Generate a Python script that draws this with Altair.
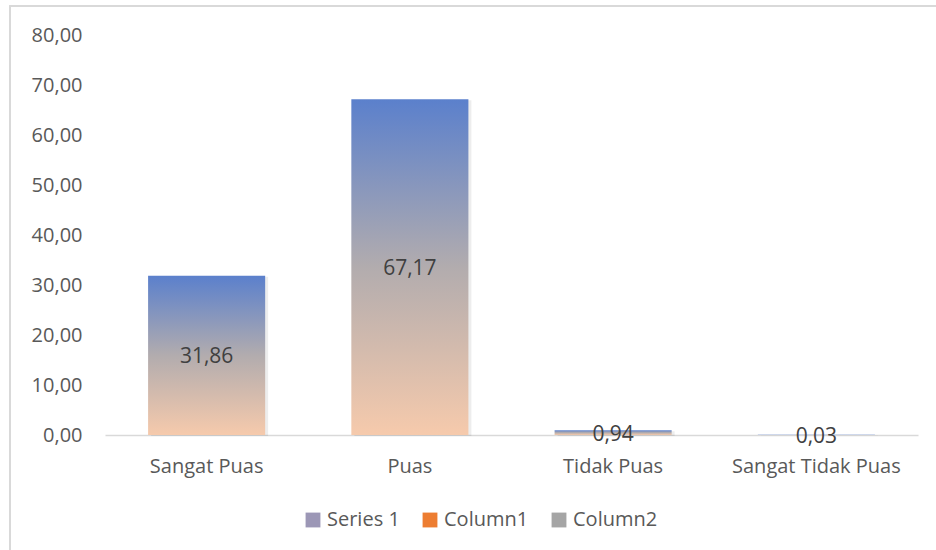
import altair as alt
import pandas as pd

categories = ["Sangat Puas", "Puas", "Tidak Puas", "Sangat Tidak Puas"]
values = [31.86, 67.17, 0.94, 0.03]
legend_series = ["Series 1", "Column1", "Column2"]
legend_colors = ["#9C97B6", "#ED7D31", "#A5A5A5"]
y_ticks = [0, 10, 20, 30, 40, 50, 60, 70, 80]

FONT = "Open Sans"
df = pd.DataFrame({"cat": categories, "value": values})
leg = pd.DataFrame({"series": legend_series, "v": [0, 0, 0]})

x_enc = alt.X("cat:N", sort=categories,
              scale=alt.Scale(paddingInner=0.424, paddingOuter=0.212),
              axis=alt.Axis(title=None, labelAngle=0, ticks=False, domainColor="#d9d9d9",
                            domainWidth=1.5, labelColor="#595959", labelFontSize=20,
                            labelFont=FONT, labelPadding=21, grid=False))
y_scale = alt.Scale(domain=[0, 80], nice=False)

grad = alt.Gradient(gradient="linear", x1=0, x2=0, y1=0, y2=1,
                    stops=[alt.GradientStop(color="#5B80CC", offset=0),
                           alt.GradientStop(color="#B2ACAE", offset=0.5),
                           alt.GradientStop(color="#F6CAAC", offset=1)])

base = alt.Chart(df)

shadow = base.mark_bar(color="#000000", opacity=0.07, xOffset=3, yOffset=1).encode(
    x=x_enc, y=alt.Y("value:Q", scale=y_scale))

bars = base.mark_bar(color=grad).encode(
    x=x_enc,
    y=alt.Y("value:Q", scale=y_scale,
            axis=alt.Axis(title=None, values=y_ticks, grid=False, domain=False, ticks=False,
                          labelColor="#595959", labelFontSize=20, labelFont=FONT,
                          labelPadding=23,
                          labelExpr="replace(format(datum.value, '.2f'), '.', ',')")))

labels = base.transform_calculate(
    mid="datum.value / 2",
    lab="replace(format(datum.value, '.2f'), '.', ',')"
).mark_text(fontSize=21, font=FONT, color="#404040", baseline="middle", dy=2).encode(
    x=alt.X("cat:N", sort=categories), y=alt.Y("mid:Q", scale=y_scale), text="lab:N")

legend_layer = alt.Chart(leg).mark_square(opacity=0, size=0).encode(
    x=alt.value(0), y=alt.value(0),
    color=alt.Color("series:N", sort=legend_series,
                    scale=alt.Scale(domain=legend_series, range=legend_colors),
                    legend=alt.Legend(title=None, orient="none", direction="horizontal",
                                      legendX=198, legendY=475, symbolType="square",
                                      symbolSize=220, symbolOpacity=1, symbolStrokeWidth=0,
                                      labelFontSize=20, labelFont=FONT, labelColor="#595959",
                                      columnPadding=20, labelOffset=4)))

border = alt.Chart(leg).mark_rect(fillOpacity=0, stroke="#d9d9d9", strokeWidth=1.5).encode(
    x=alt.value(-95), x2=alt.value(841), y=alt.value(-29), y2=alt.value(525))

chart = alt.layer(border, shadow, bars, labels, legend_layer).properties(
    width=813, height=400,
    autosize=alt.AutoSizeParams(type="none"),
    padding={"left": 105, "top": 35, "right": 18, "bottom": 115},
    background="white",
).configure_view(stroke=None)

chart.save("out.html", embed_options={"renderer": "svg", "actions": False})
